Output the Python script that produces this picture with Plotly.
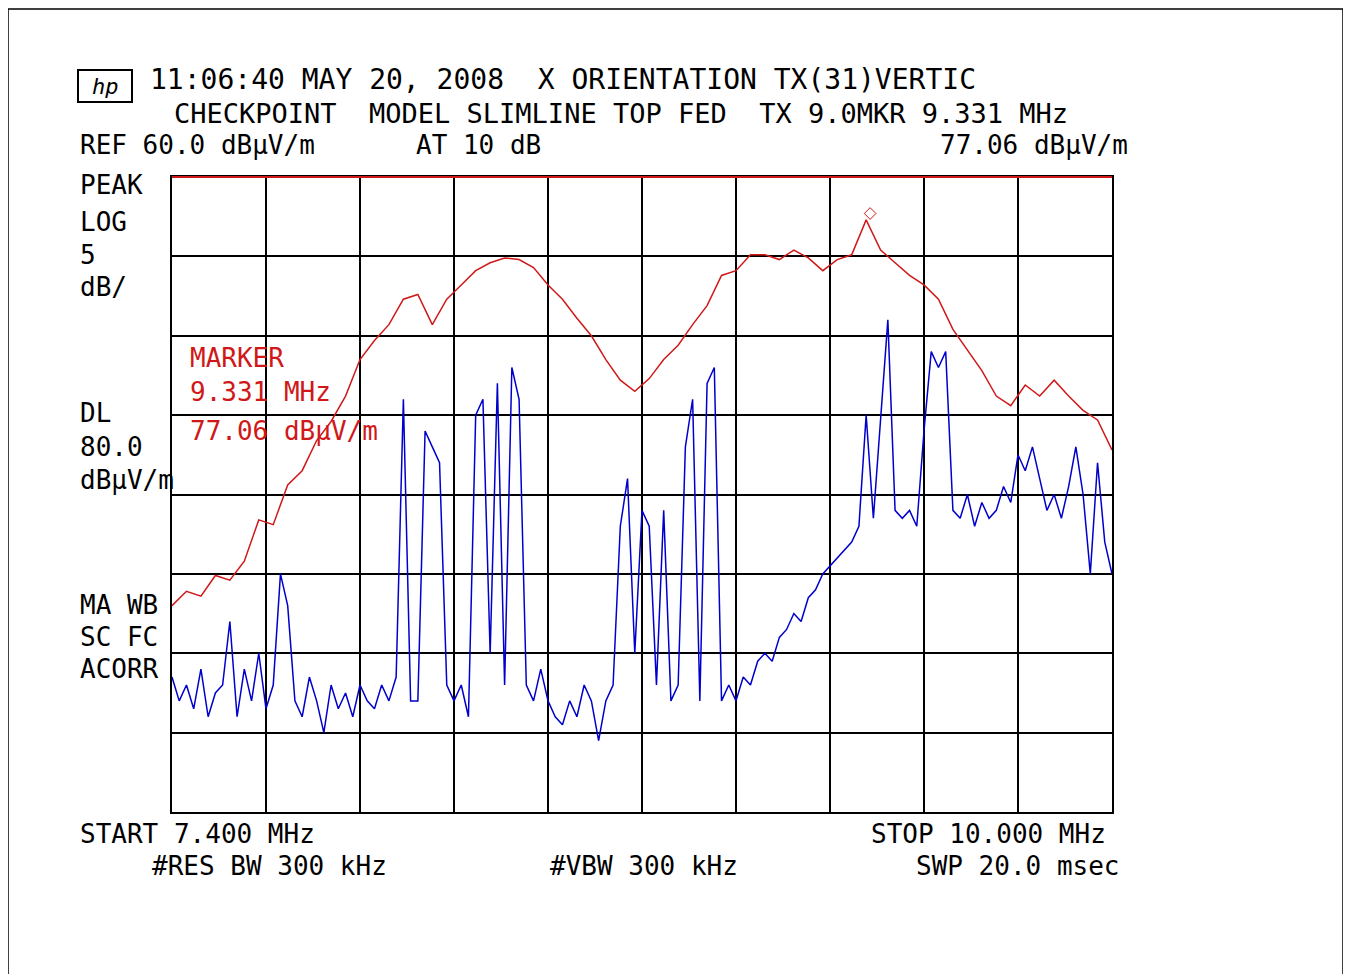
import plotly.graph_objects as go

W, H = 1351, 974
OFF = 8  # page body margin

# frequency grid (MHz)
red_freq = [round(7.40 + 0.04 * i, 2) for i in range(66)]
red_db = [33.0, 33.9, 33.6, 34.9, 34.6, 35.8, 38.4, 38.1, 40.6, 41.5, 43.4, 44.6, 46.2, 48.5,
          49.7, 50.7, 52.3, 52.6, 50.7, 52.3, 53.2, 54.1, 54.6, 54.9, 54.8, 54.3, 53.2, 52.3,
          51.1, 50.0, 48.5, 47.2, 46.5, 47.3, 48.5, 49.4, 50.7, 51.9, 53.8, 54.1, 55.1, 55.1,
          54.8, 55.4, 54.9, 54.1, 54.8, 55.1, 57.3, 55.4, 54.6, 53.8, 53.2, 52.3, 50.4, 49.1,
          47.8, 46.2, 45.6, 46.9, 46.2, 47.2, 46.2, 45.3, 44.7, 42.8]

blue_freq = [round(7.40 + 0.02 * i, 2) for i in range(131)]
blue_db = [28.5, 27, 28, 26.5, 29, 26, 27.5, 28, 32, 26, 29, 27, 30, 26.5, 28, 35, 33, 27, 26,
           28.5, 27, 25, 28, 26.5, 27.5, 26, 28, 27, 26.5, 28, 27, 28.5,
           46, 27, 27, 44, 43, 42, 28, 27, 28, 26, 45, 46, 30, 47, 28, 48, 46, 28, 27, 29, 27,
           26, 25.5, 27, 26, 28, 27, 24.5, 27, 28, 38, 41, 30, 39, 38, 28, 39, 27, 28, 43, 46,
           27, 47, 48, 27, 28, 27, 28.5, 28, 29.5, 30, 29.5, 31, 31.5, 32.5, 32, 33.5, 34, 35,
           35.5, 36, 36.5, 37, 38, 45, 38.5, 45, 51, 39, 38.5, 39, 38, 44, 49, 48, 49, 39, 38.5,
           40, 38, 39.5, 38.5, 39, 40.5, 39.5, 42.5, 41.5, 43, 41, 39, 40, 38.5, 40.5, 43, 40,
           35, 42, 37, 35]

marker_freq = [9.331]
marker_db = [57.7]

RED = "#d01818"
BLUE = "#0000cc"
FONT = "DejaVu Sans Mono"

fig = go.Figure()
fig.add_trace(go.Scatter(x=red_freq, y=red_db, mode="lines", line=dict(color=RED, width=1.5)))
fig.add_trace(go.Scatter(x=blue_freq, y=blue_db, mode="lines", line=dict(color=BLUE, width=1.5)))
fig.add_trace(go.Scatter(x=marker_freq, y=marker_db, mode="markers",
                         marker=dict(symbol="diamond-open", color=RED, size=9)))


def px(x):
    return (x - OFF) / W


def py(y):
    return 1 - (y - OFF) / H


x0, x1, y0, y1 = 172, 1112, 177, 812
fig.update_xaxes(range=[7.4, 10.0], domain=[px(x0), px(x1)], dtick=0.26, tick0=7.4,
                 showticklabels=False, showgrid=True, gridcolor="black", gridwidth=2,
                 showline=True, linecolor="black", linewidth=2, mirror=True, zeroline=False)
fig.update_yaxes(range=[20, 60], domain=[py(y1), py(y0)], dtick=5,
                 showticklabels=False, showgrid=True, gridcolor="black", gridwidth=2,
                 showline=True, linecolor="black", linewidth=2, mirror=True, zeroline=False)

# red reference line at top
fig.add_shape(type="line", xref="paper", yref="paper", x0=px(x0), x1=px(x1),
              y0=py(y0), y1=py(y0), line=dict(color=RED, width=2))
# outer border
fig.add_shape(type="rect", xref="paper", yref="paper", x0=px(8), x1=px(1343),
              y0=py(980), y1=py(9), line=dict(color="black", width=1.5))
# hp logo box
fig.add_shape(type="rect", xref="paper", yref="paper", x0=px(78), x1=px(132),
              y0=py(102), y1=py(70), line=dict(color="black", width=2))


def txt(s, x, y, color="black", anchor="left", size=26):
    fig.add_annotation(text=s, x=px(x), y=py(y), xref="paper", yref="paper",
                       xanchor=anchor, yanchor="middle", showarrow=False,
                       font=dict(family=FONT, size=size, color=color))


txt("<i>hp</i>", 105, 86, anchor="center", size=22)
txt("11:06:40 MAY 20, 2008  X ORIENTATION TX(31)VERTIC", 148, 80, size=28)
txt("CHECKPOINT  MODEL SLIMLINE TOP FED  TX 9.0MKR 9.331 MHz", 172, 113, size=27)
txt("REF 60.0 dBµV/m", 78, 145)
txt("AT 10 dB", 414, 145)
txt("77.06 dBµV/m", 1130, 145, anchor="right")
for s, yy in [("PEAK", 185), ("LOG", 222), ("5", 255), ("dB/", 287), ("DL", 413),
              ("80.0", 447), ("dBµV/m", 480), ("MA WB", 605), ("SC FC", 637), ("ACORR", 669)]:
    txt(s, 78, yy)
txt("MARKER", 188, 358, color=RED)
txt("9.331 MHz", 188, 392, color=RED)
txt("77.06 dBµV/m", 188, 431, color=RED)
txt("START 7.400 MHz", 78, 834)
txt("STOP 10.000 MHz", 1108, 834, anchor="right")
txt("#RES BW 300 kHz", 150, 866)
txt("#VBW 300 kHz", 548, 866)
txt("SWP 20.0 msec", 1122, 866, anchor="right")

fig.update_layout(width=W, height=H, margin=dict(l=0, r=0, t=0, b=0),
                  paper_bgcolor="white", plot_bgcolor="white", showlegend=False)

fig.write_html("out.html")
